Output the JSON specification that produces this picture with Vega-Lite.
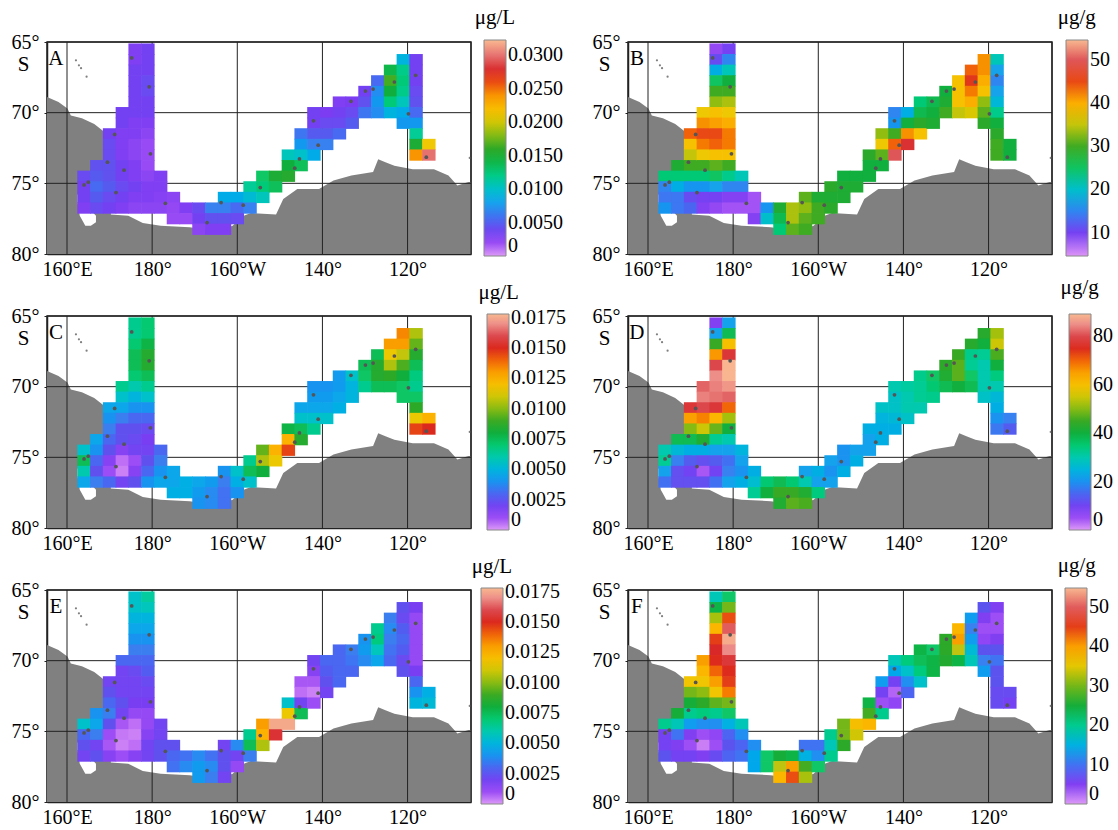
{"$schema":"https://vega.github.io/schema/vega-lite/v6.json","background":"white","padding":{"left":10,"top":6,"right":0,"bottom":0},"bounds":"flush","columns":2,"spacing":{"row":62,"column":157},"resolve":{"scale":{"color":"independent"},"legend":{"color":"independent"}},
"config":{"font":"Liberation Serif","view":{"stroke":"#222","strokeWidth":1.5},"range":{"ramp":["#dd99f8","#a050f5","#7a3cf2","#5a55ee","#3a80f0","#18a4ec","#10bcd0","#10cc9c","#10c868","#10ae3c","#30a825","#78b818","#bcc410","#f0c804","#fcb400","#f89000","#ec5010","#d82020","#dc4a50","#ec8c88","#f8b890"]},
"legend":{"orient":"none","gradientLength":216,"gradientThickness":22,"labelFont":"Liberation Serif","labelFontSize":20,"labelColor":"black","labelOverlap":false,"gradientStrokeColor":"#888","gradientStrokeWidth":1,"labelOffset":3,"title":null,"legendY":-2},
"axis":{"labelFont":"Liberation Serif","labelFontSize":20,"labelColor":"black","title":null,"grid":false,"domainColor":"#222","domainWidth":1.5,"tickColor":"#222","tickSize":3}},
"datasets":{
"cells":[
{"lon":164,"lat":74.5,"A":0.004,"B":24,"C":0.0055,"D":30,"E":0.0055,"F":20},
{"lon":164,"lat":75.25,"A":0.0035,"B":15,"C":0.0075,"D":32,"E":0.003,"F":6},
{"lon":164,"lat":76,"A":0.0035,"B":14,"C":0.006,"D":22,"E":0.0025,"F":6},
{"lon":164,"lat":76.75,"A":0.003,"B":16,"C":0.0045,"D":16,"E":0.002,"F":8},
{"lon":167,"lat":73.75,"A":0.0045,"B":28,"C":0.0045,"D":38,"E":0.004,"F":25},
{"lon":167,"lat":74.5,"A":0.005,"B":24,"C":0.004,"D":26,"E":0.0045,"F":18},
{"lon":167,"lat":75.25,"A":0.0055,"B":18,"C":0.003,"D":18,"E":0.0035,"F":10},
{"lon":167,"lat":76,"A":0.005,"B":14,"C":0.0025,"D":12,"E":0.002,"F":5},
{"lon":167,"lat":76.75,"A":0.004,"B":14,"C":0.0035,"D":12,"E":0.0025,"F":6},
{"lon":170,"lat":71.5,"A":0.0035,"B":44,"C":0.0045,"D":78,"E":0.002,"F":36},
{"lon":170,"lat":72.25,"A":0.004,"B":38,"C":0.004,"D":65,"E":0.0025,"F":30},
{"lon":170,"lat":73,"A":0.004,"B":35,"C":0.0035,"D":50,"E":0.003,"F":25},
{"lon":170,"lat":73.75,"A":0.0045,"B":30,"C":0.003,"D":38,"E":0.0035,"F":20},
{"lon":170,"lat":74.5,"A":0.0045,"B":24,"C":0.0025,"D":24,"E":0.0025,"F":13},
{"lon":170,"lat":75.25,"A":0.005,"B":16,"C":0.0015,"D":14,"E":0.001,"F":5},
{"lon":170,"lat":76,"A":0.004,"B":11,"C":0.001,"D":10,"E":0.0008,"F":3},
{"lon":170,"lat":76.75,"A":0.0035,"B":13,"C":0.003,"D":12,"E":0.0015,"F":6},
{"lon":173,"lat":70,"A":0.0035,"B":37,"C":0.0065,"D":82,"E":0.003,"F":40},
{"lon":173,"lat":70.75,"A":0.0035,"B":42,"C":0.0055,"D":84,"E":0.002,"F":38},
{"lon":173,"lat":71.5,"A":0.003,"B":45,"C":0.0045,"D":80,"E":0.002,"F":36},
{"lon":173,"lat":72.25,"A":0.003,"B":43,"C":0.0035,"D":68,"E":0.002,"F":31},
{"lon":173,"lat":73,"A":0.003,"B":37,"C":0.0025,"D":55,"E":0.0025,"F":27},
{"lon":173,"lat":73.75,"A":0.0035,"B":30,"C":0.0025,"D":42,"E":0.002,"F":21},
{"lon":173,"lat":74.5,"A":0.0035,"B":24,"C":0.0015,"D":24,"E":0.0008,"F":12},
{"lon":173,"lat":75.25,"A":0.004,"B":16,"C":0.0005,"D":12,"E":0.0004,"F":3},
{"lon":173,"lat":76,"A":0.0035,"B":10,"C":0.0003,"D":4,"E":0.0003,"F":1},
{"lon":173,"lat":76.75,"A":0.003,"B":9,"C":0.002,"D":12,"E":0.001,"F":5},
{"lon":176,"lat":65.5,"A":0.003,"B":8,"C":0.0065,"D":8,"E":0.0055,"F":18},
{"lon":176,"lat":66.25,"A":0.003,"B":11,"C":0.0065,"D":22,"E":0.0055,"F":24},
{"lon":176,"lat":67,"A":0.0035,"B":18,"C":0.007,"D":45,"E":0.005,"F":32},
{"lon":176,"lat":67.75,"A":0.0035,"B":25,"C":0.0075,"D":66,"E":0.0045,"F":38},
{"lon":176,"lat":68.5,"A":0.0035,"B":30,"C":0.0075,"D":80,"E":0.004,"F":45},
{"lon":176,"lat":69.25,"A":0.0035,"B":33,"C":0.007,"D":85,"E":0.0035,"F":47},
{"lon":176,"lat":70,"A":0.0035,"B":38,"C":0.006,"D":84,"E":0.003,"F":46},
{"lon":176,"lat":70.75,"A":0.003,"B":41,"C":0.005,"D":83,"E":0.0022,"F":43},
{"lon":176,"lat":71.5,"A":0.003,"B":45,"C":0.004,"D":78,"E":0.002,"F":40},
{"lon":176,"lat":72.25,"A":0.0025,"B":44,"C":0.003,"D":62,"E":0.002,"F":36},
{"lon":176,"lat":73,"A":0.0025,"B":38,"C":0.0025,"D":48,"E":0.0018,"F":29},
{"lon":176,"lat":73.75,"A":0.003,"B":31,"C":0.0022,"D":32,"E":0.0012,"F":20},
{"lon":176,"lat":74.5,"A":0.003,"B":25,"C":0.002,"D":22,"E":0.0005,"F":12},
{"lon":176,"lat":75.25,"A":0.0035,"B":17,"C":0.001,"D":14,"E":0.0003,"F":4},
{"lon":176,"lat":76,"A":0.003,"B":10,"C":0.0015,"D":10,"E":0.0005,"F":3},
{"lon":176,"lat":76.75,"A":0.0025,"B":8,"C":0.0025,"D":16,"E":0.0015,"F":7},
{"lon":179,"lat":65.5,"A":0.0035,"B":10,"C":0.007,"D":22,"E":0.0062,"F":22},
{"lon":179,"lat":66.25,"A":0.0035,"B":15,"C":0.007,"D":38,"E":0.0058,"F":30},
{"lon":179,"lat":67,"A":0.0035,"B":21,"C":0.0078,"D":60,"E":0.005,"F":44},
{"lon":179,"lat":67.75,"A":0.004,"B":27,"C":0.0085,"D":78,"E":0.0045,"F":50},
{"lon":179,"lat":68.5,"A":0.004,"B":30,"C":0.0085,"D":89,"E":0.004,"F":54},
{"lon":179,"lat":69.25,"A":0.0035,"B":34,"C":0.0075,"D":89,"E":0.0035,"F":52},
{"lon":179,"lat":70,"A":0.0035,"B":37,"C":0.0065,"D":86,"E":0.003,"F":48},
{"lon":179,"lat":70.75,"A":0.003,"B":40,"C":0.0055,"D":82,"E":0.0028,"F":46},
{"lon":179,"lat":71.5,"A":0.0025,"B":43,"C":0.004,"D":70,"E":0.0022,"F":45},
{"lon":179,"lat":72.25,"A":0.002,"B":43,"C":0.003,"D":52,"E":0.002,"F":42},
{"lon":179,"lat":73,"A":0.002,"B":38,"C":0.0022,"D":40,"E":0.0018,"F":30},
{"lon":179,"lat":73.75,"A":0.002,"B":30,"C":0.0018,"D":30,"E":0.0012,"F":22},
{"lon":179,"lat":74.5,"A":0.0025,"B":23,"C":0.002,"D":22,"E":0.0012,"F":15},
{"lon":179,"lat":75.25,"A":0.003,"B":15,"C":0.0025,"D":16,"E":0.0015,"F":9},
{"lon":179,"lat":76,"A":0.003,"B":9,"C":0.003,"D":18,"E":0.002,"F":8},
{"lon":179,"lat":76.75,"A":0.0025,"B":7,"C":0.004,"D":22,"E":0.002,"F":9},
{"lon":182,"lat":74.5,"A":0.003,"B":21,"C":0.003,"D":25,"E":0.002,"F":18},
{"lon":182,"lat":75.25,"A":0.003,"B":15,"C":0.0035,"D":22,"E":0.002,"F":12},
{"lon":182,"lat":76,"A":0.0028,"B":9,"C":0.004,"D":20,"E":0.0025,"F":9},
{"lon":182,"lat":76.75,"A":0.0025,"B":7,"C":0.0045,"D":24,"E":0.0025,"F":10},
{"lon":185,"lat":76,"A":0.0025,"B":7,"C":0.0045,"D":24,"E":0.0025,"F":12},
{"lon":185,"lat":76.75,"A":0.0022,"B":7,"C":0.0045,"D":27,"E":0.003,"F":14},
{"lon":185,"lat":77.5,"A":0.002,"B":9,"C":0.0048,"D":32,"E":0.0032,"F":14},
{"lon":188,"lat":76.75,"A":0.003,"B":16,"C":0.0048,"D":35,"E":0.0032,"F":22},
{"lon":188,"lat":77.5,"A":0.002,"B":20,"C":0.0048,"D":40,"E":0.0038,"F":22},
{"lon":191,"lat":76.75,"A":0.004,"B":28,"C":0.0045,"D":38,"E":0.0038,"F":25},
{"lon":191,"lat":77.5,"A":0.0035,"B":26,"C":0.0042,"D":45,"E":0.0042,"F":33},
{"lon":191,"lat":78.25,"A":0.0025,"B":24,"C":0.004,"D":42,"E":0.0042,"F":38},
{"lon":194,"lat":76.75,"A":0.0065,"B":34,"C":0.0042,"D":35,"E":0.0032,"F":24},
{"lon":194,"lat":77.5,"A":0.0045,"B":34,"C":0.0038,"D":45,"E":0.0038,"F":40},
{"lon":194,"lat":78.25,"A":0.003,"B":31,"C":0.0038,"D":47,"E":0.0035,"F":44},
{"lon":197,"lat":76,"A":0.0085,"B":31,"C":0.004,"D":22,"E":0.002,"F":10},
{"lon":197,"lat":76.75,"A":0.0065,"B":33,"C":0.0035,"D":30,"E":0.0025,"F":15},
{"lon":197,"lat":77.5,"A":0.0045,"B":31,"C":0.0032,"D":42,"E":0.0025,"F":28},
{"lon":197,"lat":78.25,"A":0.003,"B":30,"C":0.0032,"D":46,"E":0.002,"F":32},
{"lon":200,"lat":76,"A":0.0085,"B":28,"C":0.0055,"D":24,"E":0.0038,"F":10},
{"lon":200,"lat":76.75,"A":0.0055,"B":30,"C":0.0048,"D":22,"E":0.002,"F":12},
{"lon":200,"lat":77.5,"A":0.004,"B":30,"C":0.004,"D":34,"E":0.0012,"F":22},
{"lon":203,"lat":75.25,"A":0.0115,"B":29,"C":0.0065,"D":22,"E":0.0065,"F":20},
{"lon":203,"lat":76,"A":0.0095,"B":28,"C":0.0075,"D":20,"E":0.0075,"F":18},
{"lon":203,"lat":76.75,"A":0.0065,"B":29,"C":0.0055,"D":22,"E":0.0035,"F":20},
{"lon":206,"lat":74.5,"A":0.013,"B":27,"C":0.0095,"D":20,"E":0.013,"F":30},
{"lon":206,"lat":75.25,"A":0.0125,"B":28,"C":0.0105,"D":20,"E":0.0125,"F":30},
{"lon":206,"lat":76,"A":0.0105,"B":28,"C":0.008,"D":24,"E":0.0105,"F":27},
{"lon":209,"lat":74.5,"A":0.015,"B":27,"C":0.0125,"D":22,"E":0.0175,"F":37},
{"lon":209,"lat":75.25,"A":0.0135,"B":28,"C":0.0115,"D":24,"E":0.0155,"F":34},
{"lon":212,"lat":73,"A":0.0105,"B":29,"C":0.0078,"D":24,"E":0.0055,"F":24},
{"lon":212,"lat":73.75,"A":0.0145,"B":27,"C":0.0125,"D":22,"E":0.0115,"F":28},
{"lon":212,"lat":74.5,"A":0.0155,"B":27,"C":0.0145,"D":22,"E":0.0175,"F":38},
{"lon":215,"lat":71.5,"A":0.006,"B":33,"C":0.0045,"D":28,"E":0.0008,"F":13},
{"lon":215,"lat":72.25,"A":0.0075,"B":37,"C":0.0055,"D":25,"E":0.0005,"F":6},
{"lon":215,"lat":73,"A":0.01,"B":31,"C":0.0075,"D":24,"E":0.002,"F":3},
{"lon":215,"lat":73.75,"A":0.0135,"B":27,"C":0.0085,"D":24,"E":0.0075,"F":20},
{"lon":218,"lat":70,"A":0.0035,"B":15,"C":0.004,"D":30,"E":0.002,"F":18},
{"lon":218,"lat":70.75,"A":0.0035,"B":16,"C":0.0042,"D":28,"E":0.0015,"F":14},
{"lon":218,"lat":71.5,"A":0.005,"B":30,"C":0.0045,"D":28,"E":0.0008,"F":6},
{"lon":218,"lat":72.25,"A":0.0065,"B":44,"C":0.0055,"D":26,"E":0.0003,"F":2},
{"lon":218,"lat":73,"A":0.0085,"B":50,"C":0.0065,"D":24,"E":0.001,"F":4},
{"lon":221,"lat":70,"A":0.0032,"B":18,"C":0.004,"D":31,"E":0.003,"F":21},
{"lon":221,"lat":70.75,"A":0.004,"B":27,"C":0.0042,"D":30,"E":0.0028,"F":17},
{"lon":221,"lat":71.5,"A":0.005,"B":42,"C":0.0045,"D":30,"E":0.0025,"F":12},
{"lon":221,"lat":72.25,"A":0.0065,"B":48,"C":0.0055,"D":28,"E":0.002,"F":9},
{"lon":224,"lat":69.25,"A":0.003,"B":24,"C":0.0042,"D":33,"E":0.003,"F":24},
{"lon":224,"lat":70,"A":0.0035,"B":26,"C":0.0042,"D":32,"E":0.003,"F":23},
{"lon":224,"lat":70.75,"A":0.004,"B":29,"C":0.0045,"D":32,"E":0.003,"F":21},
{"lon":224,"lat":71.5,"A":0.0055,"B":38,"C":0.0048,"D":30,"E":0.003,"F":17},
{"lon":227,"lat":69.25,"A":0.0032,"B":26,"C":0.0055,"D":36,"E":0.0035,"F":22},
{"lon":227,"lat":70,"A":0.004,"B":27,"C":0.005,"D":35,"E":0.0033,"F":24},
{"lon":227,"lat":70.75,"A":0.005,"B":28,"C":0.005,"D":33,"E":0.003,"F":24},
{"lon":230,"lat":68.5,"A":0.0035,"B":27,"C":0.0075,"D":44,"E":0.004,"F":27},
{"lon":230,"lat":69.25,"A":0.0045,"B":28,"C":0.0072,"D":42,"E":0.0042,"F":27},
{"lon":230,"lat":70,"A":0.006,"B":30,"C":0.0065,"D":38,"E":0.0038,"F":26},
{"lon":233,"lat":67.75,"A":0.0055,"B":38,"C":0.0075,"D":45,"E":0.0065,"F":38},
{"lon":233,"lat":68.5,"A":0.007,"B":38,"C":0.0085,"D":47,"E":0.0068,"F":40},
{"lon":233,"lat":69.25,"A":0.0075,"B":38,"C":0.0085,"D":47,"E":0.0058,"F":33},
{"lon":233,"lat":70,"A":0.007,"B":35,"C":0.0075,"D":40,"E":0.0045,"F":24},
{"lon":236,"lat":67,"A":0.014,"B":44,"C":0.013,"D":43,"E":0.0035,"F":13},
{"lon":236,"lat":67.75,"A":0.0165,"B":46,"C":0.0115,"D":33,"E":0.0038,"F":11},
{"lon":236,"lat":68.5,"A":0.0145,"B":43,"C":0.0105,"D":32,"E":0.0035,"F":13},
{"lon":236,"lat":69.25,"A":0.0125,"B":40,"C":0.0088,"D":36,"E":0.0032,"F":16},
{"lon":236,"lat":70,"A":0.009,"B":36,"C":0.0075,"D":38,"E":0.003,"F":18},
{"lon":239,"lat":66.25,"A":0.009,"B":42,"C":0.0135,"D":43,"E":0.0025,"F":8},
{"lon":239,"lat":67,"A":0.012,"B":42,"C":0.013,"D":40,"E":0.0022,"F":5},
{"lon":239,"lat":67.75,"A":0.0125,"B":40,"C":0.0108,"D":32,"E":0.0028,"F":3},
{"lon":239,"lat":68.5,"A":0.012,"B":38,"C":0.0092,"D":30,"E":0.003,"F":4},
{"lon":239,"lat":69.25,"A":0.0105,"B":33,"C":0.008,"D":30,"E":0.0028,"F":8},
{"lon":239,"lat":70,"A":0.0085,"B":31,"C":0.0072,"D":30,"E":0.0022,"F":11},
{"lon":239,"lat":70.75,"A":0.0075,"B":29,"C":0.0072,"D":28,"E":0.0025,"F":13},
{"lon":242,"lat":66.25,"A":0.0035,"B":21,"C":0.0105,"D":52,"E":0.0018,"F":5},
{"lon":242,"lat":67,"A":0.0035,"B":17,"C":0.0095,"D":55,"E":0.0012,"F":3},
{"lon":242,"lat":67.75,"A":0.0035,"B":15,"C":0.0085,"D":46,"E":0.0012,"F":3},
{"lon":242,"lat":68.5,"A":0.004,"B":17,"C":0.0075,"D":40,"E":0.0012,"F":5},
{"lon":242,"lat":69.25,"A":0.0045,"B":19,"C":0.0068,"D":34,"E":0.0012,"F":8},
{"lon":242,"lat":70,"A":0.0055,"B":23,"C":0.0065,"D":30,"E":0.0012,"F":10},
{"lon":242,"lat":70.75,"A":0.0075,"B":27,"C":0.0072,"D":26,"E":0.0018,"F":8},
{"lon":242,"lat":71.5,"A":0.0115,"B":29,"C":0.0088,"D":24,"E":0.003,"F":8},
{"lon":242,"lat":72.25,"A":0.015,"B":30,"C":0.0115,"D":20,"E":0.004,"F":7},
{"lon":242,"lat":73,"A":0.024,"B":30,"C":0.0145,"D":17,"E":0.005,"F":7},
{"lon":245,"lat":72.25,"A":0.021,"B":27,"C":0.0125,"D":18,"E":0.0048,"F":7},
{"lon":245,"lat":73,"A":0.03,"B":27,"C":0.015,"D":14,"E":0.0052,"F":6}
],
"land":[{"lon":155.3,"lat":68.9},{"lon":158,"lat":69.25},{"lon":160.1,"lat":69.7},{"lon":160.9,"lat":70.2},{"lon":163.5,"lat":70.4},{"lon":166.4,"lat":70.8},{"lon":168.5,"lat":71.3},{"lon":170.2,"lat":71.6},{"lon":170.3,"lat":77.2},{"lon":174.4,"lat":77.3},{"lon":177.8,"lat":77.8},{"lon":182,"lat":78},{"lon":188.8,"lat":78.1},{"lon":195.6,"lat":78.35},{"lon":198.9,"lat":78},{"lon":201.5,"lat":77.3},{"lon":203.2,"lat":77.1},{"lon":209.1,"lat":77.2},{"lon":210.8,"lat":76.1},{"lon":214.1,"lat":75.4},{"lon":219.2,"lat":75.4},{"lon":222.6,"lat":74.8},{"lon":226.8,"lat":74.45},{"lon":231.9,"lat":74.2},{"lon":233.1,"lat":73.3},{"lon":234.8,"lat":73.5},{"lon":236.9,"lat":73.75},{"lon":241.2,"lat":74},{"lon":246.2,"lat":74},{"lon":249.6,"lat":74.45},{"lon":251.7,"lat":75.15},{"lon":254.3,"lat":74.9},{"lon":254.9,"lat":74.9}],
"pocket":[{"lon":162.45,"lat":75.75,"lat2":76.3},{"lon":163,"lat":76.1,"lat2":77.3},{"lon":164.3,"lat":76.6,"lat2":78},{"lon":165.6,"lat":76.9,"lat2":78},{"lon":166.8,"lat":77.3,"lat2":77.75}],
"isles":[{"lon":162.1,"lat":66.3},{"lon":162.8,"lat":66.65},{"lon":163.3,"lat":66.85},{"lon":164.6,"lat":67.45},{"lon":254.6,"lat":73.2}],
"stations":[{"lon":175.2,"lat":66.13},{"lon":179.3,"lat":68.17},{"lon":171.2,"lat":71.54},{"lon":179.6,"lat":72.91},{"lon":169.5,"lat":73.5},{"lon":173.4,"lat":74.07},{"lon":165,"lat":74.92},{"lon":164,"lat":75.11},{"lon":171.5,"lat":75.65},{"lon":183.1,"lat":76.41},{"lon":196.2,"lat":76.36},{"lon":192.9,"lat":77.78},{"lon":201.4,"lat":76.55},{"lon":205.4,"lat":75.3},{"lon":213.5,"lat":73.93},{"lon":214.6,"lat":73.27},{"lon":219,"lat":72.3},{"lon":217.9,"lat":70.58},{"lon":226.7,"lat":69.2},{"lon":230.1,"lat":68.47},{"lon":231.9,"lat":68.33},{"lon":236.9,"lat":67.83},{"lon":241.9,"lat":67.36},{"lon":240.2,"lat":70.08},{"lon":244.4,"lat":73.15}],
"lons":[{"lon":160},{"lon":180},{"lon":200},{"lon":220},{"lon":240},{"lon":254.9}],
"lats":[{"lat":65},{"lat":70},{"lat":75}]
},
"concat":[
{"width":424,"height":212,"encoding":{"x":{"field":"lon","type":"quantitative","scale":{"domain":[155.3,254.9],"nice":false,"zero":false},"axis":{"values":[160,180,200,220,240],"ticks":false,"labelPadding":5,"labelExpr":"datum.value==160?'160°E':datum.value==180?'180°':datum.value==200?'160°W':datum.value==220?'140°':'120°'"}},"y":{"field":"lat","type":"quantitative","scale":{"domain":[65,80],"reverse":true,"nice":false,"zero":false},"axis":{"values":[65,70,75,80],"labelPadding":5,"labelExpr":"datum.value+'°'"}}},
"layer":[
{"data":{"name":"land"},"mark":{"type":"area","color":"#808080"},"encoding":{"y2":{"datum":80}}},
{"data":{"name":"pocket"},"mark":{"type":"area","color":"white"},"encoding":{"y2":{"field":"lat2"}}},
{"data":{"name":"isles"},"mark":{"type":"point","filled":true,"color":"#808080","size":5,"opacity":1}},
{"data":{"name":"lons"},"mark":{"type":"rule","color":"#222","strokeWidth":1},"encoding":{"y":null}},
{"data":{"name":"lats"},"mark":{"type":"rule","color":"#222","strokeWidth":1},"encoding":{"x":null}},
{"data":{"name":"cells"},"mark":{"type":"point","filled":true,"opacity":1,"strokeWidth":0,"size":180,"shape":"M-1,-.84H1V.84H-1Z"},"encoding":{"color":{"field":"A","type":"quantitative","scale":{"domain":[0,0.0323]},"legend":{"values":[0,0.005,0.01,0.015,0.02,0.025,0.03],"labelExpr":"datum.value==0?'0':format(datum.value,'.4f')","legendX":437}}}},
{"data":{"name":"stations"},"mark":{"type":"point","filled":true,"color":"#555","size":14,"opacity":1}},
{"data":{"values":[{"lon":157.4,"lat":66.2,"t":"A"},{"lon":149.8,"lat":66.6,"t":"S"},{"lon":260.5,"lat":63.3,"t":"μg/L"}]},"mark":{"type":"text","fontSize":21,"color":"black"},"encoding":{"text":{"field":"t"}}}
]},
{"width":424,"height":212,"encoding":{"x":{"field":"lon","type":"quantitative","scale":{"domain":[155.3,254.9],"nice":false,"zero":false},"axis":{"values":[160,180,200,220,240],"ticks":false,"labelPadding":5,"labelExpr":"datum.value==160?'160°E':datum.value==180?'180°':datum.value==200?'160°W':datum.value==220?'140°':'120°'"}},"y":{"field":"lat","type":"quantitative","scale":{"domain":[65,80],"reverse":true,"nice":false,"zero":false},"axis":{"values":[65,70,75,80],"labelPadding":5,"labelExpr":"datum.value+'°'"}}},
"layer":[
{"data":{"name":"land"},"mark":{"type":"area","color":"#808080"},"encoding":{"y2":{"datum":80}}},
{"data":{"name":"pocket"},"mark":{"type":"area","color":"white"},"encoding":{"y2":{"field":"lat2"}}},
{"data":{"name":"isles"},"mark":{"type":"point","filled":true,"color":"#808080","size":5,"opacity":1}},
{"data":{"name":"lons"},"mark":{"type":"rule","color":"#222","strokeWidth":1},"encoding":{"y":null}},
{"data":{"name":"lats"},"mark":{"type":"rule","color":"#222","strokeWidth":1},"encoding":{"x":null}},
{"data":{"name":"cells"},"mark":{"type":"point","filled":true,"opacity":1,"strokeWidth":0,"size":180,"shape":"M-1,-.84H1V.84H-1Z"},"encoding":{"color":{"field":"B","type":"quantitative","scale":{"domain":[4.6,54.6]},"legend":{"values":[10,20,30,40,50],"legendX":438}}}},
{"data":{"name":"stations"},"mark":{"type":"point","filled":true,"color":"#555","size":14,"opacity":1}},
{"data":{"values":[{"lon":157.4,"lat":66.2,"t":"B"},{"lon":149.8,"lat":66.6,"t":"S"},{"lon":260.7,"lat":63.3,"t":"μg/g"}]},"mark":{"type":"text","fontSize":21,"color":"black"},"encoding":{"text":{"field":"t"}}}
]},
{"width":424,"height":212,"encoding":{"x":{"field":"lon","type":"quantitative","scale":{"domain":[155.3,254.9],"nice":false,"zero":false},"axis":{"values":[160,180,200,220,240],"ticks":false,"labelPadding":5,"labelExpr":"datum.value==160?'160°E':datum.value==180?'180°':datum.value==200?'160°W':datum.value==220?'140°':'120°'"}},"y":{"field":"lat","type":"quantitative","scale":{"domain":[65,80],"reverse":true,"nice":false,"zero":false},"axis":{"values":[65,70,75,80],"labelPadding":5,"labelExpr":"datum.value+'°'"}}},
"layer":[
{"data":{"name":"land"},"mark":{"type":"area","color":"#808080"},"encoding":{"y2":{"datum":80}}},
{"data":{"name":"pocket"},"mark":{"type":"area","color":"white"},"encoding":{"y2":{"field":"lat2"}}},
{"data":{"name":"isles"},"mark":{"type":"point","filled":true,"color":"#808080","size":5,"opacity":1}},
{"data":{"name":"lons"},"mark":{"type":"rule","color":"#222","strokeWidth":1},"encoding":{"y":null}},
{"data":{"name":"lats"},"mark":{"type":"rule","color":"#222","strokeWidth":1},"encoding":{"x":null}},
{"data":{"name":"cells"},"mark":{"type":"point","filled":true,"opacity":1,"strokeWidth":0,"size":180,"shape":"M-1,-.84H1V.84H-1Z"},"encoding":{"color":{"field":"C","type":"quantitative","scale":{"domain":[0,0.0178]},"legend":{"values":[0,0.0025,0.005,0.0075,0.01,0.0125,0.015,0.0175],"labelExpr":"datum.value==0?'0':format(datum.value,'.4f')","legendX":440}}}},
{"data":{"name":"stations"},"mark":{"type":"point","filled":true,"color":"#555","size":14,"opacity":1}},
{"data":{"values":[{"lon":157.4,"lat":66.2,"t":"C"},{"lon":149.8,"lat":66.6,"t":"S"},{"lon":261.4,"lat":63.4,"t":"μg/L"}]},"mark":{"type":"text","fontSize":21,"color":"black"},"encoding":{"text":{"field":"t"}}}
]},
{"width":424,"height":212,"encoding":{"x":{"field":"lon","type":"quantitative","scale":{"domain":[155.3,254.9],"nice":false,"zero":false},"axis":{"values":[160,180,200,220,240],"ticks":false,"labelPadding":5,"labelExpr":"datum.value==160?'160°E':datum.value==180?'180°':datum.value==200?'160°W':datum.value==220?'140°':'120°'"}},"y":{"field":"lat","type":"quantitative","scale":{"domain":[65,80],"reverse":true,"nice":false,"zero":false},"axis":{"values":[65,70,75,80],"labelPadding":5,"labelExpr":"datum.value+'°'"}}},
"layer":[
{"data":{"name":"land"},"mark":{"type":"area","color":"#808080"},"encoding":{"y2":{"datum":80}}},
{"data":{"name":"pocket"},"mark":{"type":"area","color":"white"},"encoding":{"y2":{"field":"lat2"}}},
{"data":{"name":"isles"},"mark":{"type":"point","filled":true,"color":"#808080","size":5,"opacity":1}},
{"data":{"name":"lons"},"mark":{"type":"rule","color":"#222","strokeWidth":1},"encoding":{"y":null}},
{"data":{"name":"lats"},"mark":{"type":"rule","color":"#222","strokeWidth":1},"encoding":{"x":null}},
{"data":{"name":"cells"},"mark":{"type":"point","filled":true,"opacity":1,"strokeWidth":0,"size":180,"shape":"M-1,-.84H1V.84H-1Z"},"encoding":{"color":{"field":"D","type":"quantitative","scale":{"domain":[0,89.3]},"legend":{"values":[0,20,40,60,80],"legendX":441}}}},
{"data":{"name":"stations"},"mark":{"type":"point","filled":true,"color":"#555","size":14,"opacity":1}},
{"data":{"values":[{"lon":157.4,"lat":66.2,"t":"D"},{"lon":149.8,"lat":66.6,"t":"S"},{"lon":261.4,"lat":63,"t":"μg/g"}]},"mark":{"type":"text","fontSize":21,"color":"black"},"encoding":{"text":{"field":"t"}}}
]},
{"width":424,"height":212,"encoding":{"x":{"field":"lon","type":"quantitative","scale":{"domain":[155.3,254.9],"nice":false,"zero":false},"axis":{"values":[160,180,200,220,240],"ticks":false,"labelPadding":5,"labelExpr":"datum.value==160?'160°E':datum.value==180?'180°':datum.value==200?'160°W':datum.value==220?'140°':'120°'"}},"y":{"field":"lat","type":"quantitative","scale":{"domain":[65,80],"reverse":true,"nice":false,"zero":false},"axis":{"values":[65,70,75,80],"labelPadding":5,"labelExpr":"datum.value+'°'"}}},
"layer":[
{"data":{"name":"land"},"mark":{"type":"area","color":"#808080"},"encoding":{"y2":{"datum":80}}},
{"data":{"name":"pocket"},"mark":{"type":"area","color":"white"},"encoding":{"y2":{"field":"lat2"}}},
{"data":{"name":"isles"},"mark":{"type":"point","filled":true,"color":"#808080","size":5,"opacity":1}},
{"data":{"name":"lons"},"mark":{"type":"rule","color":"#222","strokeWidth":1},"encoding":{"y":null}},
{"data":{"name":"lats"},"mark":{"type":"rule","color":"#222","strokeWidth":1},"encoding":{"x":null}},
{"data":{"name":"cells"},"mark":{"type":"point","filled":true,"opacity":1,"strokeWidth":0,"size":180,"shape":"M-1,-.84H1V.84H-1Z"},"encoding":{"color":{"field":"E","type":"quantitative","scale":{"domain":[0,0.0178]},"legend":{"values":[0,0.0025,0.005,0.0075,0.01,0.0125,0.015,0.0175],"labelExpr":"datum.value==0?'0':format(datum.value,'.4f')","legendX":434}}}},
{"data":{"name":"stations"},"mark":{"type":"point","filled":true,"color":"#555","size":14,"opacity":1}},
{"data":{"values":[{"lon":157.4,"lat":66.2,"t":"E"},{"lon":149.8,"lat":66.6,"t":"S"},{"lon":259.8,"lat":63.4,"t":"μg/L"}]},"mark":{"type":"text","fontSize":21,"color":"black"},"encoding":{"text":{"field":"t"}}}
]},
{"width":424,"height":212,"encoding":{"x":{"field":"lon","type":"quantitative","scale":{"domain":[155.3,254.9],"nice":false,"zero":false},"axis":{"values":[160,180,200,220,240],"ticks":false,"labelPadding":5,"labelExpr":"datum.value==160?'160°E':datum.value==180?'180°':datum.value==200?'160°W':datum.value==220?'140°':'120°'"}},"y":{"field":"lat","type":"quantitative","scale":{"domain":[65,80],"reverse":true,"nice":false,"zero":false},"axis":{"values":[65,70,75,80],"labelPadding":5,"labelExpr":"datum.value+'°'"}}},
"layer":[
{"data":{"name":"land"},"mark":{"type":"area","color":"#808080"},"encoding":{"y2":{"datum":80}}},
{"data":{"name":"pocket"},"mark":{"type":"area","color":"white"},"encoding":{"y2":{"field":"lat2"}}},
{"data":{"name":"isles"},"mark":{"type":"point","filled":true,"color":"#808080","size":5,"opacity":1}},
{"data":{"name":"lons"},"mark":{"type":"rule","color":"#222","strokeWidth":1},"encoding":{"y":null}},
{"data":{"name":"lats"},"mark":{"type":"rule","color":"#222","strokeWidth":1},"encoding":{"x":null}},
{"data":{"name":"cells"},"mark":{"type":"point","filled":true,"opacity":1,"strokeWidth":0,"size":180,"shape":"M-1,-.84H1V.84H-1Z"},"encoding":{"color":{"field":"F","type":"quantitative","scale":{"domain":[0,54.8]},"legend":{"values":[0,10,20,30,40,50],"legendX":437}}}},
{"data":{"name":"stations"},"mark":{"type":"point","filled":true,"color":"#555","size":14,"opacity":1}},
{"data":{"values":[{"lon":157.4,"lat":66.2,"t":"F"},{"lon":149.8,"lat":66.6,"t":"S"},{"lon":260.7,"lat":63.3,"t":"μg/g"}]},"mark":{"type":"text","fontSize":21,"color":"black"},"encoding":{"text":{"field":"t"}}}
]}
]}
